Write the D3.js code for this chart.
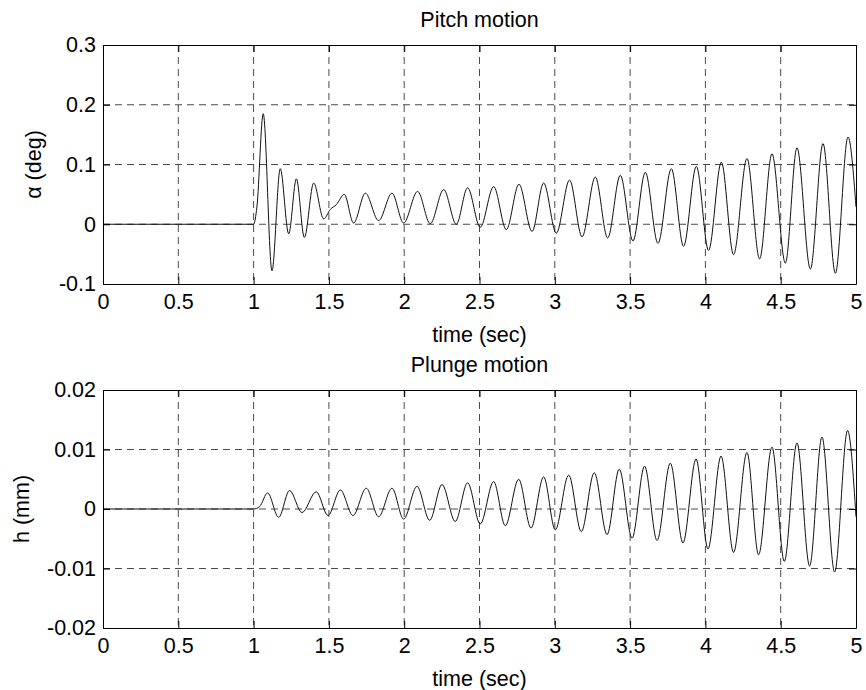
<!DOCTYPE html>
<html>
<head>
<meta charset="utf-8">
<script src="https://cdn.jsdelivr.net/npm/d3@7"></script>
<style>
  body { margin: 0; background: #fff; }
  text { font-family: "Liberation Sans", Arial, sans-serif; fill: #000; }
</style>
</head>
<body>
<svg id="chart"></svg>
<script>
var width = 866;
var height = 690;
var fontSize = 21.5;

// time ticks shared by both panels
var timeTicks = [0, 0.5, 1, 1.5, 2, 2.5, 3, 3.5, 4, 4.5, 5];

var pitchTime = [0, 1.0, 1.022, 1.064, 1.122, 1.177, 1.233, 1.284, 1.337, 1.399, 1.465,
  1.51, 1.55, 1.602, 1.664, 1.742, 1.830, 1.919, 1.996, 2.089, 2.173, 2.262, 2.346, 2.421,
  2.505, 2.594, 2.678, 2.762, 2.849, 2.926, 3.010, 3.098, 3.181, 3.269, 3.351, 3.435, 3.519,
  3.601, 3.685, 3.774, 3.855, 3.940, 4.021, 4.106, 4.187, 4.276, 4.360, 4.442, 4.531, 4.608,
  4.697, 4.781, 4.863, 4.947, 5.0];
var pitchDeg = [0, 0, 0.029, 0.185, -0.078, 0.093, -0.016, 0.076, -0.022, 0.069, 0.009,
  0.025, 0.033, 0.050, 0.002, 0.052, 0.006, 0.052, 0.002, 0.055, 0.001, 0.058, 0, 0.061,
  -0.005, 0.063, -0.009, 0.067, -0.012, 0.069, -0.015, 0.074, -0.021, 0.079, -0.023, 0.082, -0.028,
  0.087, -0.032, 0.093, -0.037, 0.097, -0.044, 0.104, -0.051, 0.110, -0.058, 0.118, -0.065, 0.128,
  -0.075, 0.135, -0.082, 0.146, 0.029];
var pitchTicks = [-0.1, 0, 0.1, 0.2, 0.3];

// plunge displacement
var plungeTime = [0, 1.0, 1.04, 1.093, 1.166, 1.239, 1.321, 1.416, 1.494, 1.576, 1.660,
  1.748, 1.830, 1.919, 1.996, 2.085, 2.169, 2.251, 2.339, 2.421, 2.505, 2.594, 2.671,
  2.760, 2.842, 2.926, 3.003, 3.092, 3.176, 3.262, 3.347, 3.428, 3.513, 3.596, 3.679,
  3.767, 3.851, 3.938, 4.017, 4.104, 4.187, 4.276, 4.353, 4.442, 4.524, 4.608, 4.692,
  4.774, 4.858, 4.944, 5.0];
var plungeMm = [0, 0, 0.0004, 0.0027, -0.0014, 0.0031, -0.0006, 0.0029, -0.0011, 0.0032, -0.0011,
  0.0035, -0.0013, 0.0035, -0.0017, 0.0038, -0.0019, 0.0041, -0.0021, 0.0044, -0.0025, 0.0046, -0.0028,
  0.0050, -0.0032, 0.0054, -0.0035, 0.0057, -0.0038, 0.0061, -0.0043, 0.0067, -0.0049, 0.0072, -0.0053,
  0.0077, -0.0057, 0.0084, -0.0067, 0.0089, -0.0073, 0.0095, -0.0077, 0.0104, -0.0088, 0.0111, -0.0096,
  0.0121, -0.0106, 0.0132, -0.0013];
var plungeTicks = [-0.02, -0.01, 0, 0.01, 0.02];

var svg = d3.select('#chart')
    .attr('width', width)
    .attr('height', height);

svg.append('rect')
    .attr('width', width)
    .attr('height', height)
    .attr('fill', '#fff');

var left = 103, right = 856;

// plain hyphen for negatives, like matlab
function fmt(d) { return String(d); }

function drawPanel(opt) {
  var x = d3.scaleLinear().domain([0, 5]).range([left, right]);
  var y = d3.scaleLinear().domain(opt.domain).range([opt.bottom, opt.top]);
  var g = svg.append('g');

  // dashed grid
  g.selectAll('.vgrid')
      .data(timeTicks.slice(1, -1))
      .enter().append('line')
      .attr('x1', function (d) { return x(d); })
      .attr('x2', function (d) { return x(d); })
      .attr('y1', opt.top)
      .attr('y2', opt.bottom)
      .attr('stroke', '#4a4a4a')
      .attr('stroke-dasharray', '7,5');
  g.selectAll('.hgrid')
      .data(opt.ticks.slice(1, -1))
      .enter().append('line')
      .attr('x1', left)
      .attr('x2', right)
      .attr('y1', function (d) { return y(d); })
      .attr('y2', function (d) { return y(d); })
      .attr('stroke', '#4a4a4a')
      .attr('stroke-dasharray', '7,5');

  var line = d3.line()
      .curve(d3.curveMonotoneX)
      .x(function (d) { return x(d[0]); })
      .y(function (d) { return y(d[1]); });

  g.append('path')
      .datum(d3.zip(opt.t, opt.v))
      .attr('d', line)
      .attr('fill', 'none')
      .attr('stroke', '#111')
      .attr('stroke-width', 1);

  // axes with inward ticks, matlab style box
  var bottomAxis = d3.axisBottom(x).tickValues(timeTicks).tickFormat(fmt)
      .tickSizeInner(-7).tickSizeOuter(0).tickPadding(10);
  var leftAxis = d3.axisLeft(y).tickValues(opt.ticks).tickFormat(fmt)
      .tickSizeInner(-7).tickSizeOuter(0).tickPadding(7);

  g.append('g')
      .attr('transform', 'translate(0,' + opt.bottom + ')')
      .call(bottomAxis);
  g.append('g')
      .attr('transform', 'translate(' + left + ',0)')
      .call(leftAxis);
  g.append('g')
      .attr('transform', 'translate(0,' + opt.top + ')')
      .call(d3.axisTop(x).tickValues(timeTicks).tickFormat('').tickSizeInner(-7).tickSizeOuter(0));
  g.append('g')
      .attr('transform', 'translate(' + right + ',0)')
      .call(d3.axisRight(y).tickValues(opt.ticks).tickFormat('').tickSizeInner(-7).tickSizeOuter(0));

  g.selectAll('.tick text')
      .attr('font-size', fontSize)
      .attr('font-family', '"Liberation Sans", Arial, sans-serif')
      .attr('fill', '#000');
  g.selectAll('.domain, .tick line').attr('stroke', '#000');

  g.append('text')
      .attr('x', (left + right) / 2)
      .attr('y', opt.top - 18)
      .attr('text-anchor', 'middle')
      .attr('font-size', fontSize)
      .text(opt.title);

  g.append('text')
      .attr('x', (left + right) / 2)
      .attr('y', opt.bottom + 58)
      .attr('text-anchor', 'middle')
      .attr('font-size', fontSize)
      .text('time (sec)');

  g.append('text')
      .attr('transform', 'translate(' + opt.ylabelX + ',' + (opt.top + opt.bottom) / 2 + ') rotate(-90)')
      .attr('text-anchor', 'middle')
      .attr('font-size', fontSize)
      .text(opt.ylabel);
}

drawPanel({
  title: 'Pitch motion', ylabel: 'α (deg)', ylabelX: 41,
  top: 45, bottom: 284, domain: [-0.1, 0.3], ticks: pitchTicks,
  t: pitchTime, v: pitchDeg
});

drawPanel({
  title: 'Plunge motion', ylabel: 'h (mm)', ylabelX: 29,
  top: 390, bottom: 628, domain: [-0.02, 0.02], ticks: plungeTicks,
  t: plungeTime, v: plungeMm
});
</script>
</body>
</html>
